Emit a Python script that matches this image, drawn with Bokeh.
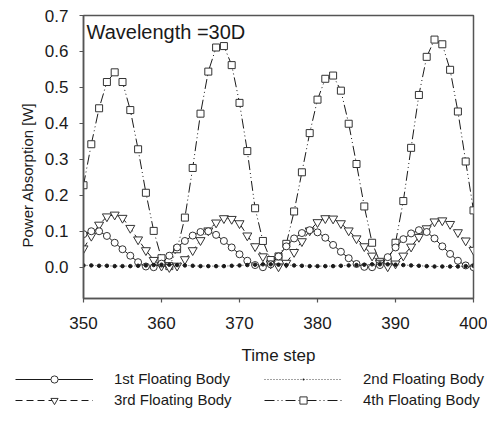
from bokeh.plotting import figure
from bokeh.layouts import column
from bokeh.models import (ColumnDataSource, Legend, LegendItem, FixedTicker,
                          PrintfTickFormatter, Label, Range1d, Title)
from bokeh.embed import file_html
from bokeh.resources import INLINE

# ---- data ----
time_step = list(range(350, 401))

body1 = [0.092, 0.100, 0.100, 0.087, 0.068, 0.050, 0.032, 0.014, 0.002, 0.000,
         0.010, 0.032, 0.055, 0.073, 0.088, 0.098, 0.100, 0.090, 0.073, 0.055,
         0.036, 0.018, 0.006, 0.000, 0.008, 0.030, 0.058, 0.080, 0.095, 0.103,
         0.097, 0.082, 0.062, 0.043, 0.025, 0.009, 0.001, 0.000, 0.006, 0.028,
         0.055, 0.078, 0.094, 0.103, 0.098, 0.080, 0.058, 0.037, 0.018, 0.005,
         0.000]

body2 = [0.005, 0.005, 0.004, 0.004, 0.003, 0.003, 0.003, 0.004, 0.005, 0.006,
         0.007, 0.007, 0.006, 0.005, 0.004, 0.003, 0.003, 0.003, 0.003, 0.004,
         0.005, 0.006, 0.007, 0.008, 0.008, 0.007, 0.006, 0.005, 0.004, 0.003,
         0.003, 0.003, 0.003, 0.004, 0.005, 0.006, 0.007, 0.008, 0.008, 0.008,
         0.007, 0.006, 0.005, 0.004, 0.003, 0.002, 0.002, 0.002, 0.002, 0.003,
         0.004]

body3 = [0.052, 0.087, 0.118, 0.141, 0.146, 0.137, 0.109, 0.077, 0.047, 0.020,
         0.004, 0.000, 0.004, 0.022, 0.047, 0.075, 0.102, 0.124, 0.136, 0.134,
         0.122, 0.088, 0.058, 0.030, 0.010, 0.002, 0.012, 0.042, 0.072, 0.102,
         0.125, 0.136, 0.135, 0.122, 0.102, 0.080, 0.058, 0.032, 0.012, 0.002,
         0.010, 0.032, 0.057, 0.084, 0.108, 0.127, 0.130, 0.120, 0.097, 0.074,
         0.048]

body4 = [0.228, 0.342, 0.442, 0.515, 0.542, 0.515, 0.437, 0.328, 0.207, 0.101,
         0.025, 0.003, 0.050, 0.138, 0.276, 0.427, 0.544, 0.611, 0.615, 0.562,
         0.457, 0.323, 0.164, 0.073, 0.020, 0.030, 0.065, 0.155, 0.264, 0.373,
         0.466, 0.524, 0.533, 0.491, 0.399, 0.287, 0.169, 0.068, 0.015, 0.017,
         0.068, 0.184, 0.332, 0.479, 0.585, 0.633, 0.620, 0.549, 0.433, 0.294,
         0.158]

y_ticks = [0.0, 0.1, 0.2, 0.3, 0.4, 0.5, 0.6, 0.7]
x_ticks = [350, 360, 370, 380, 390, 400]
series_labels = ["1st Floating Body", "2nd Floating Body",
                 "3rd Floating Body", "4th Floating Body"]
annotation = "Wavelength =30D"
y_title = "Power Absorption [W]"

source = ColumnDataSource(dict(t=time_step, b1=body1, b2=body2, b3=body3, b4=body4))

FONT = "Liberation Sans"
AX = "#555555"
INK = "#1a1a1a"
MK = "#333333"

S1 = dict(line=dict(line_color=INK, line_width=1),
          mark=dict(marker="circle", fill_color="white", line_color=MK, line_width=1))
S2 = dict(line=dict(line_color="#444444", line_width=1, line_dash="1 2"),
          mark=dict(marker="circle", fill_color=INK, line_color=INK))
S3 = dict(line=dict(line_color=INK, line_width=1, line_dash="7 4"),
          mark=dict(marker="inverted_triangle", fill_color="white", line_color=MK, line_width=1))
S4 = dict(line=dict(line_color=INK, line_width=1, line_dash="10 3 1 3 1 3"),
          mark=dict(marker="square", fill_color="white", line_color=MK, line_width=1))

# ---------------- main plot ----------------
p = figure(width=487, height=367,
           x_range=Range1d(350, 400), y_range=Range1d(-0.087, 0.7),
           output_backend="svg", toolbar_location=None,
           min_border_left=83, min_border_right=14, min_border_top=15,
           min_border_bottom=66)
p.grid.visible = False
p.outline_line_color = AX
p.outline_line_width = 1.5

for ax in (p.xaxis[0], p.yaxis[0]):
    ax.axis_line_color = AX
    ax.axis_line_width = 1.5
    ax.major_tick_line_color = AX
    ax.major_tick_line_width = 1.2
    ax.major_tick_in = 0
    ax.major_tick_out = 4
    ax.minor_tick_in = 0
    ax.minor_tick_out = 0
    ax.minor_tick_line_color = None
    ax.major_label_text_font = FONT
    ax.major_label_text_font_size = "17px"
    ax.major_label_text_color = INK
    ax.axis_label_text_font = FONT
    ax.axis_label_text_font_style = "normal"
    ax.axis_label_text_color = INK
    ax.axis_label_text_font_size = "17px"

p.xaxis.ticker = FixedTicker(ticks=x_ticks)
p.yaxis.ticker = FixedTicker(ticks=y_ticks)
p.yaxis.formatter = PrintfTickFormatter(format="%.1f")
p.xaxis.axis_label = "Time step"
p.xaxis.major_label_standoff = 14
p.xaxis.axis_label_standoff = 14
p.yaxis.major_label_standoff = 11

# y title: in the reference it sits a little below the frame centre
p.add_layout(Title(text=y_title, align="left", offset=51, standoff=12,
                   text_font=FONT, text_font_size="15px",
                   text_font_style="normal", text_color=INK), "left")

p.line("t", "b4", source=source, **S4["line"])
p.scatter("t", "b4", source=source, size=7, **S4["mark"])
p.line("t", "b3", source=source, **S3["line"])
p.scatter("t", "b3", source=source, size=9, **S3["mark"])
p.line("t", "b1", source=source, **S1["line"])
p.scatter("t", "b1", source=source, size=7, **S1["mark"])
p.line("t", "b2", source=source, **S2["line"])
p.scatter("t", "b2", source=source, size=3.5, **S2["mark"])

p.add_layout(Label(x=350, y=0.7, x_offset=3, y_offset=-5, text=annotation,
                   text_baseline="top", text_font=FONT,
                   text_font_size="20px", text_color=INK))

# ---------------- legend strip ----------------
lg = figure(width=487, height=41, x_range=Range1d(0, 1), y_range=Range1d(0, 1),
            output_backend="svg", toolbar_location=None, min_border=0)
lg.axis.visible = False
lg.grid.visible = False
lg.outline_line_color = None
for fig in (p, lg):
    try:
        fig.frame_align = False
    except AttributeError:
        pass

# legend proxies: same data, outside this strip's ranges, so only the
# legend samples are visible
items = []
for lab, col, st in zip(series_labels, ("b1", "b2", "b3", "b4"), (S1, S2, S3, S4)):
    rl = lg.line("t", col, source=source, **st["line"])
    mk = dict(st["mark"])
    if lab == series_labels[1]:
        mk.update(marker="dot", line_width=1.6)
    rm = lg.scatter("t", col, source=source, size=7, **mk)
    items.append(LegendItem(label=lab, renderers=[rl, rm]))

legend = Legend(items=items, orientation="horizontal", ncols=2,
                location=(15, -0.5), glyph_width=78, glyph_height=18,
                label_standoff=21, label_width=147, spacing=3, padding=0,
                margin=0, border_line_color=None, background_fill_alpha=0,
                label_text_font=FONT, label_text_font_size="15px",
                label_text_color=INK)
lg.add_layout(legend, "center")

layout = column(p, lg, spacing=0)
open("out.html", "w").write(file_html(layout, INLINE))
